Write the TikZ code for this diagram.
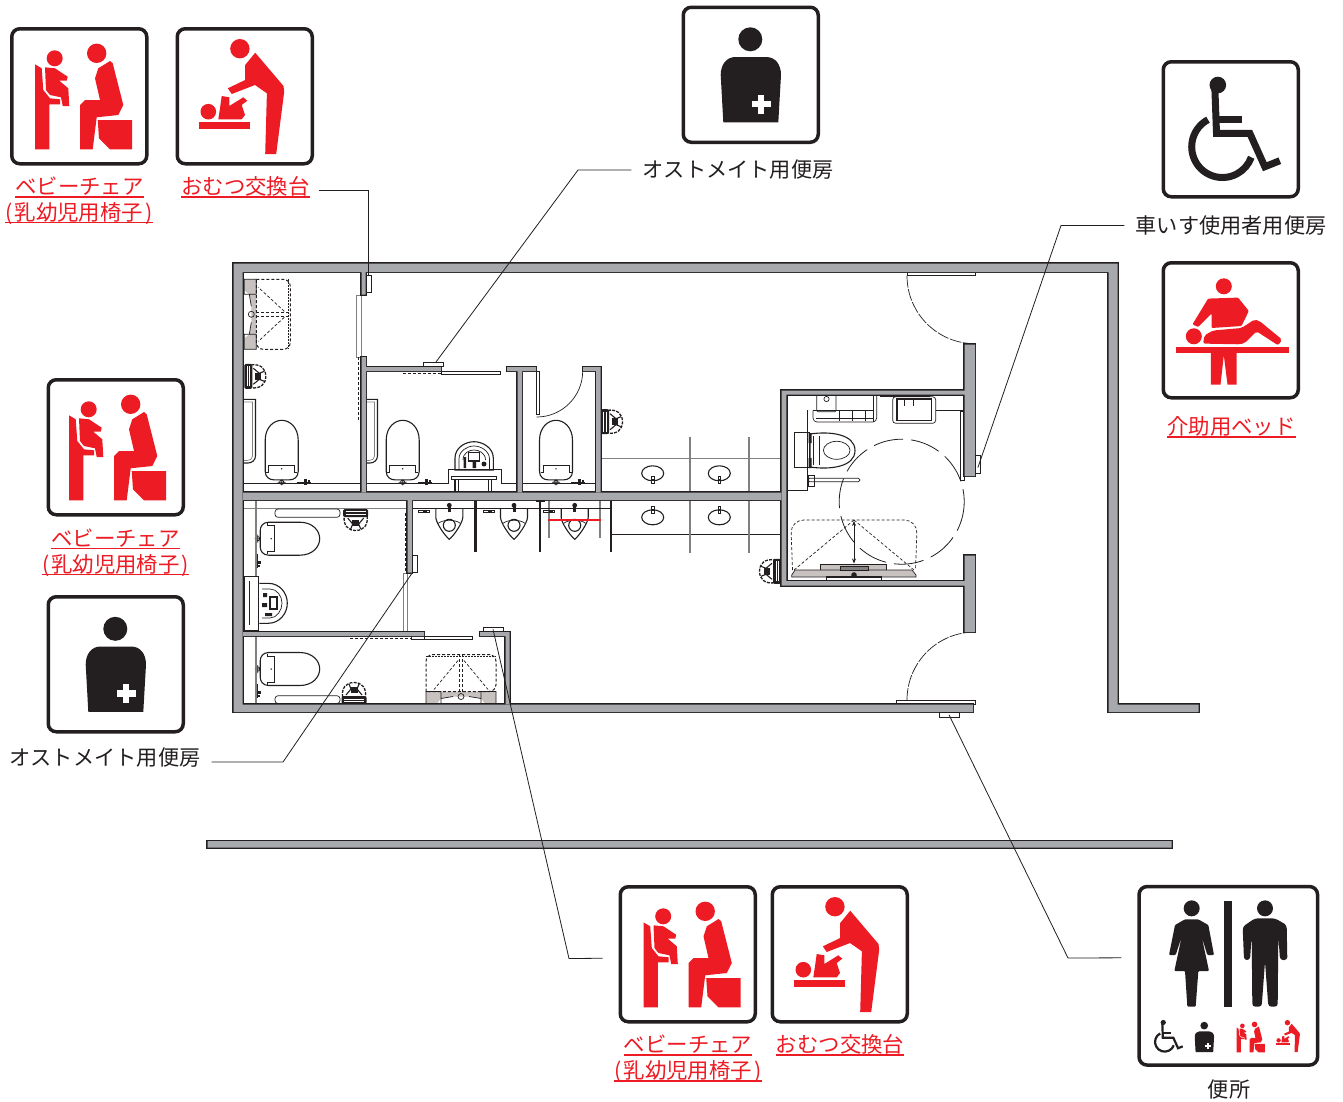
\documentclass[tikz,border=0pt]{standalone}
\usepackage{fontspec}
\newfontfamily\jp{Noto Sans CJK JP}
\usetikzlibrary{calc,arrows.meta}
\definecolor{ink}{HTML}{231F20}
\definecolor{sred}{HTML}{ED1C24}
\definecolor{wallg}{HTML}{A7A9AC}
\definecolor{tileg}{HTML}{C7C2C0}
\tikzset{
  iconframe/.style={draw=ink,line width=3.5pt,rounded corners=8pt,minimum size=135pt,inner sep=0pt,fill=white},
  redlabel/.style={font=\jp\fontsize{21.4pt}{24pt}\selectfont,text=sred,anchor=south,inner sep=0pt,text height=17pt,text depth=2pt},
  blacklabel/.style={font=\jp\fontsize{21.2pt}{24pt}\selectfont,text=ink,inner sep=0pt},
  redrule/.style={draw=sred,line width=1.8pt},
  leader/.style={draw=ink,line width=0.8pt},
  thinl/.style={draw=ink,line width=0.7pt},
  med/.style={draw=ink,line width=1.1pt},
  grayl/.style={draw=gray,line width=1.1pt},
  indicator/.style={draw=ink,line width=0.7pt,fill=white,inner sep=0pt},
  dashl/.style={draw=ink,line width=0.7pt,dash pattern=on 3pt off 2pt},
  doorarc/.style={draw=ink,line width=0.7pt,dash pattern=on 12pt off 1.5pt},
  turn/.style={draw=ink,line width=0.8pt,dash pattern=on 30pt off 8pt},
}
% --- pictograms, drawn in a 138.5 box ---
\newcommand\FrameAt[3]{\node[iconframe] (#1) at (#2+69.25,#3+69.25) {};}
\newcommand\BabyChair{%
  \fill[sred] (25,37.3) -- (31.7,41.3) -- (33.3,63) -- (40,71.3) -- (50,72.3) -- (50,77.3) -- (39.3,77.3) -- (39.3,122.3) -- (25,122.3) -- cycle;
  \fill[sred] (44.7,31.3) circle[radius=8];
  \fill[sred] (35,40.3) -- (45,41.3) -- (57.7,49.7) -- (56.7,53.7) -- (49.3,53.7) -- (58.3,61.3) -- (59.3,79) -- (52.7,79) -- (51,70.3) -- (40,68) -- (36,63) -- cycle;
  \fill[sred] (86.7,26.3) circle[radius=9.7];
  \fill[sred] (100,34) -- (102.7,36.3) -- (113.3,78) -- (108.3,88) -- (86.7,90.3) -- (82.7,122.3) -- (70,122.3) -- (70,78) -- (75,73) -- (90,73) -- (85,51.3) -- (88.3,41.3) -- cycle;
  \fill[sred] (87.7,93) -- (122,93) -- (122,122.3) -- (100,122.3) -- (89,111.3) -- cycle;
}
\newcommand\Diaper{%
  \fill[sred] (64.4,21.7) circle[radius=9.7];
  \fill[sred] (79.7,25.7) -- (108,59) -- (108.7,64.7) -- (100.7,127) -- (89.7,127) -- (91.4,66.3) -- (79.5,58) -- (56.2,67) -- (52.3,61.3) -- (69.7,53) -- (69.7,38) -- cycle;
  \fill[sred] (32.8,84.7) circle[radius=7.8];
  \fill[sred] (46.2,69) -- (53.8,70.3) -- (53.8,79) -- (67.8,70.3) -- (71.8,73.7) -- (66.2,78) -- (69.5,88) -- (66.2,92.3) -- (42.8,92.3) -- (44.5,81.3) -- cycle;
  \fill[sred] (23.7,95) rectangle (74.7,101.7);
}
\newcommand\Ostomate{%
  \fill[ink] (68.8,33.8) circle[radius=12];
  \fill[ink] (41.8,116.8) -- (39.2,69.5) .. controls (39.2,59) and (45,51.5) .. (54,51.5) -- (84.5,51.5) .. controls (94,51.5) and (99.5,59) .. (99.5,69.5) -- (96.8,116.8) -- cycle;
  \fill[white] (70,95.2) rectangle (89,101.8);
  \fill[white] (76.2,89) rectangle (82.8,108);
}
\newcommand\WheelChair[1]{%
  \fill[ink] (56.3,25) circle[radius=8.3];
  \draw[ink,line width=#1*7pt,miter limit=4] (53.3,26.7) -- (55,73.3) -- (88.3,73.3) -- (103.3,106.7) -- (118.3,100.7);
  \draw[ink,line width=#1*7pt] (56.7,59.3) -- (80.7,59.3);
  \draw[ink,line width=#1*7pt] (46.5,59.7) arc[start angle=242,end angle=20,radius=30.7];
}
\newcommand\CareBed{%
  \fill[sred] (62.3,25.3) circle[radius=8];
  \fill[sred,rounded corners=1pt] (46.6,37.6) -- (76.6,36.6) -- (87.3,50) -- (80,65) -- (50,67) -- (50,52.6) -- (36.6,66) -- (31,63.3) -- cycle;
  \fill[sred] (32.3,75.3) circle[radius=8];
  \fill[sred,rounded corners=2pt] (41.6,82.6) -- (43,74.3) -- (51.6,69.5) -- (80,67) -- (93,58.5) -- (98,60) -- (120.6,78.6) -- (116.6,84.3) -- (95,70.3) -- (83.3,82) -- (78,83.3) -- cycle;
  \fill[sred] (14,85.6) rectangle (127.3,92);
  \fill[sred] (49.3,92) -- (75,92) -- (75,123.6) -- (66,123.6) -- (62.3,94.3) -- (59,123.6) -- (49.3,123.6) -- cycle;
}
% --- plan furniture ---
\newcommand\ToiletSeat[3]{%
  \begin{scope}[shift={(#1,#2)},rotate=#3]
  \draw[med] (-16.5,-12) -- (-16.5,-43) .. controls (-16.5,-56) and (-8,-63) .. (0,-63) .. controls (8,-63) and (16.5,-56) .. (16.5,-43) -- (16.5,-12) .. controls (16.5,-6) and (12,-3.5) .. (8,-3.5) -- (-8,-3.5) .. controls (-12,-3.5) and (-16.5,-6) .. (-16.5,-12) -- cycle;
  \draw[thinl] (-15.5,-11) -- (-13,-11) -- (-13,-18) -- (13,-18) -- (13,-11) -- (15.5,-11);
  \fill[ink] (0,-14.5) circle[radius=0.8];
  \draw[thinl] (0,-1) circle[radius=2.2] (-4,-1) -- (4,-1) (0,-4) -- (0,2);
  \draw[med] (15,-1) -- (29,-1);
  \fill[ink] (22,-4) rectangle (25,2);
  \fill[ink] (26,-3) rectangle (28,1);
  \end{scope}}
\newcommand\ChairSeat[3]{%
  \begin{scope}[shift={(#1,#2)},rotate=#3]
  \fill[ink,rounded corners=1.5pt] (0,-12.5) rectangle (8,12.5);
  \draw[white,line width=0.4pt] (2.6,-10) -- (2.6,10) (5.3,-10) -- (5.3,10);
  \draw[draw=ink,line width=1.3pt,dash pattern=on 3pt off 1.2pt] (7,-11.5) .. controls (16,-12.5) and (21.5,-8) .. (21.5,0) .. controls (21.5,8) and (16,12.5) .. (7,11.5);
  \draw[draw=ink,line width=1.1pt] (9,-8) -- (15,-3) (9,8) -- (15,3) (15,-3) -- (20,-5) (15,3) -- (20,5);
  \fill[ink] (11,-3.5) rectangle (17,3.5);
  \end{scope}}
\newcommand\FoldSheet[4]{%
  \begin{scope}[shift={(#1,#2)},rotate=#3]
  \fill[tileg] (0,-35) -- (12,-35) -- (12,35) -- (0,35) -- (0,24) -- (5,20) -- (7,8) -- (7,-8) -- (5,-20) -- (0,-24) -- cycle;
  \draw[thinl] (0,-35) rectangle (12,-20) (0,20) rectangle (12,35) (5,-20) -- (7,-8) (5,20) -- (7,8);
  \draw[thinl] (7,0) circle[radius=3];
  \draw[draw=ink,line width=1pt,dash pattern=on 3pt off 2pt,rounded corners=7pt] (12,-35) -- (#4,-35) -- (#4,35) -- (12,35) -- (12,-35);
  \draw[draw=ink,line width=1pt,dash pattern=on 2pt off 1pt] (#4-2,-35) -- (#4-2,35);
  \draw[dashl,line width=1pt] (12,-1.8) -- (#4,-1.8) (12,1.8) -- (#4,1.8);
  \draw[dashl] (#4-6,-3) -- (14,-27) (#4-6,3) -- (14,27);
  \end{scope}}
\newcommand\Urinal[2]{%
  \begin{scope}[shift={(#1,#2)}]
  \draw[med] (-13.5,0) -- (-13.5,9) .. controls (-13.5,14) and (-5,27) .. (0,31) .. controls (5,27) and (13.5,14) .. (13.5,9) -- (13.5,0);
  \draw[thinl] (-11,15) .. controls (-6,11) and (6,11) .. (11,15);
  \draw[med] (0,17) circle[radius=6];
  \fill[ink] (-1.5,-3.5) rectangle (1.5,4);
  \fill[ink] (0,-3) circle[radius=2.4];
  \draw[thinl] (-31,2) rectangle (-20,4.5);
  \draw[thinl] (-26,3) -- (-22,3);
  \end{scope}}
\newcommand\Basin[3]{%
  \draw[med] (#1,#2) ellipse[x radius=11,y radius=7.5];
  \fill[white] (#1-1.2,#2+#3*3.5) rectangle (#1+1.2,#2+#3*10.5);
  \draw[thinl] (#1-1.2,#2+#3*3.5) rectangle (#1+1.2,#2+#3*10.5);
  \fill[ink] (#1-1.2,#2+#3*6) rectangle (#1+1.2,#2+#3*8);
}
\newcommand\WallPaths{
  (233.6,263.5) -- (1117.5,263.5) -- (1117.5,704.5) -- (1198.5,704.5) -- (1198.5,712) -- (1108.5,712) -- (1108.5,272) -- (242.6,272) -- (242.6,704.5) -- (973,704.5) -- (973,712) -- (233.6,712) -- cycle
  (975,344.5) -- (975,476) -- (964.5,476) -- (964.5,394.5) -- (786.3,394.5) -- (786.3,581) -- (964.5,581) -- (964.5,555.5) -- (975,555.5) -- (975,632) -- (964.5,632) -- (964.5,585.5) -- (781.5,585.5) -- (781.5,390.5) -- (964.5,390.5) -- (964.5,344.5) -- cycle
  (243,492.5) rectangle (781,500)
  (361.5,272) rectangle (365.5,294.5)
  (361.5,357) rectangle (366,492)
  (366,367.2) rectangle (441,371.2)
  (507,367) rectangle (536,371)
  (517.5,371) rectangle (522,492)
  (583.2,367) rectangle (600.5,371)
  (596.2,371) rectangle (600.5,492)
  (407.5,500) rectangle (412,572.5)
  (243,632.2) rectangle (424,636.2)
  (480,632.2) rectangle (509.5,636.2)
  (505.5,636) rectangle (509.5,704)
  (207.5,841) rectangle (1171.5,847.5)
}
\begin{document}
\begin{tikzpicture}[x=1pt,y=1pt,yscale=-1]
\useasboundingbox (0,0) rectangle (1343,1101);
\fill[white] (0,0) rectangle (1343,1101);

% ===== plan: furniture first =====
\FoldSheet{244.3}{314.3}{0}{46}
\FoldSheet{461}{703.5}{-90}{49}
\ChairSeat{244.3}{376.3}{0}
\ChairSeat{601}{421.7}{0}
\ChairSeat{781}{571.3}{180}
\ChairSeat{355.7}{509}{90}
\ChairSeat{354}{704}{-90}
\draw[thinl] (243,483.3) -- (361,483.3) (366.5,483.3) -- (448.3,483.3) -- (448.3,469.3) -- (501.7,469.3) -- (501.7,483.3) -- (517,483.3) (522.5,483.3) -- (595.7,483.3);
\draw[med] (243,399.3) -- (255.5,399.3) -- (255.5,456) .. controls (255.5,460) and (252,463) .. (248,463) -- (243,463);
\draw[thinl,draw=gray] (243,402) -- (252.5,402) -- (252.5,456) .. controls (252.5,459) and (250,460.5) .. (247,460.5) -- (243,460.5);
\draw[med] (366.5,399.3) -- (377.5,399.3) -- (377.5,456) .. controls (377.5,460) and (374,463) .. (370,463) -- (366.5,463);
\draw[thinl,draw=gray] (366.5,402) -- (374.5,402) -- (374.5,456) .. controls (374.5,459) and (372,460.5) .. (369,460.5) -- (366.5,460.5);
\ToiletSeat{281.7}{483.3}{0}
\ToiletSeat{402.7}{483.3}{0}
\ToiletSeat{556}{483.3}{0}
\ToiletSeat{256.7}{538.7}{90}
\ToiletSeat{256.7}{669}{90}
\draw[med] (455,470) -- (455,458) .. controls (455,448) and (465,441.7) .. (474,441.7) .. controls (483,441.7) and (493.3,448) .. (493.3,458) -- (493.3,470) -- cycle;
\draw[thinl] (459,470) -- (459,459) .. controls (459,451) and (467,446) .. (474,446) .. controls (481,446) and (489.5,451) .. (489.5,459) -- (489.5,470);
\draw[thinl] (463,460) .. controls (463,453) and (469,450) .. (474,450) .. controls (479,450) and (485.5,453) .. (485.5,460);
\draw[med] (468.5,452.5) rectangle (479.5,461);
\fill[ink] (463.5,457) rectangle (466,468) (472.5,462) rectangle (476,468);
\fill[ink] (484,464) circle[radius=2.5];
\draw[med] (451.7,476.7) rectangle (496.7,479.3) (455,479.3) -- (455,491) (491.7,479.3) -- (491.7,491);
\draw[thinl] (458,479.3) -- (458,491) (488.7,479.3) -- (488.7,491);
\draw[grayl] (601,458.3) -- (781,458.3);
\draw[med] (611.5,534.3) -- (781,534.3);
\Basin{652.7}{473.3}{1}
\Basin{719.3}{473.3}{1}
\Basin{652.7}{517.3}{-1}
\Basin{719.3}{517.3}{-1}
\draw[draw=ink,line width=2.4pt] (475.3,500) -- (475.3,551.7) (539.7,500) -- (539.7,551.7) (611,500) -- (611,551.7);
\draw[draw=gray,line width=2.2pt] (689.7,436.7) -- (689.7,492) (749.3,436.7) -- (749.3,492) (689.7,500) -- (689.7,553.3) (749.3,500) -- (749.3,553.3);
\draw[draw=gray,line width=1.8pt] (549,500) -- (549,538) (600,500) -- (600,538);
\draw[thinl] (412.5,508.3) -- (611,508.3);
\Urinal{449.3}{508.3}
\Urinal{514}{508.3}
\Urinal{574.7}{508.3}
\draw[draw=sred,line width=1.4pt] (548.3,520) -- (601,520);
\draw[grayl] (243,508.3) -- (407,508.3);
\draw[grayl] (256,500) -- (256,576) (256,636.7) -- (256,704);
\draw[thinl,rounded corners=3pt] (340,509) -- (275,509) -- (275,517.3) -- (340,517.3) -- cycle;
\draw[thinl,rounded corners=3pt] (340,703.5) -- (275,703.5) -- (275,695.7) -- (340,695.7) -- cycle;
\draw[thinl] (244,576) rectangle (258.3,630);
\draw[draw=ink,line width=1.3pt] (249.5,581) -- (249.5,625);
\draw[med] (259.3,583.3) -- (268,583.3) .. controls (280,583.3) and (287.3,593) .. (287.3,603.3) .. controls (287.3,613) and (280,623.3) .. (268,623.3) -- (259.3,623.3);
\draw[thinl] (262,589) -- (270,589) .. controls (277,589) and (282,596) .. (282,603.3) .. controls (282,610) and (277,618) .. (270,618) -- (262,618);
\draw[med] (270,597) rectangle (277,609);
\fill[ink] (263,593) rectangle (267,597) (262,603) rectangle (267,607) (265,613) rectangle (272,616);
\draw[thinl] (536.7,371) rectangle (539.3,414.5);
\draw[thinl] (536.7,417) arc[start angle=90,end angle=0,radius=46];
\draw[thinl,draw=gray] (356.7,295) rectangle (361,357);
\draw[dashl] (358.3,357) -- (358.3,420);
\draw[dashl] (405,513) -- (405,573);
\draw[thinl,draw=gray] (403,573) rectangle (407,631.5);
\draw[thinl] (424,636.7) -- (424,640) (411.7,636.8) rectangle (472.7,639.8);
\draw[dashl] (350,638) -- (411.7,638);
\draw[thinl] (441,371.7) rectangle (500.7,374.3);
\draw[dashl] (403,373) -- (441,373);
\draw[thinl] (907.7,272.5) rectangle (975.7,275.7);
\draw[doorarc] (907,275.7) arc[start angle=180,end angle=90,radius=68];
\draw[thinl] (896,700) rectangle (975,704);
\draw[doorarc] (907,700) arc[start angle=180,end angle=270,radius=68];
\draw[thinl] (807.7,410) -- (807.7,490) -- (786.7,490);
\draw[thinl] (794.3,432.7) rectangle (809.3,467.3);
\draw[med] (810,434) .. controls (830,431) and (855,434) .. (855,450.5) .. controls (855,467) and (830,470) .. (810,467) -- cycle;
\draw[thinl] (836.7,450.3) ellipse[x radius=13.3,y radius=9];
\draw[thinl] (813,436) -- (813,465) (819,436) -- (819,465);
\fill[ink] (808.5,433) rectangle (811.5,443) (808.5,458) rectangle (811.5,468);
\draw[thinl,rounded corners=1.5pt] (808,478.3) rectangle (860,481.7);
\draw[thinl] (808,475) rectangle (814,486);
\draw[thinl,rounded corners=4pt] (813,410.5) -- (813,422) -- (876.7,422) -- (876.7,395);
\draw[thinl] (816,418.5) -- (873,418.5) (839,410) -- (839,421) (852,410) -- (852,421) (865,410) -- (865,421) (873.3,395) -- (873.3,422) (813,410.5) -- (873,410.5);
\draw[thinl,rounded corners=1pt] (816.7,395) -- (816.7,411.7) -- (836,411.7) -- (836,395);
\draw[thinl] (826.5,399) circle[radius=2.6];
\draw[thinl,rounded corners=3pt] (892.7,396.7) rectangle (935.7,423.3);
\draw[draw=ink,line width=1.3pt] (897,399) rectangle (931.7,420.5);
\draw[draw=ink,line width=1.4pt] (880,396.5) -- (930,396.5);
\draw[thinl] (904,398) -- (904,406) (913.5,398) -- (913.5,406);
\draw[thinl] (935.7,410) -- (964,410);
\draw[thinl] (960,411.7) rectangle (964,480);
\draw[turn] (901.7,501.7) circle[radius=62.5];
\draw[dashl,rounded corners=13pt] (792.5,570) -- (790.7,520) -- (917.3,520) -- (915.5,570);
\draw[dashl] (854,520) -- (794,570) (854,520) -- (914,570);
\draw[thinl,{Stealth[length=5pt,width=4pt]}-{Stealth[length=5pt,width=4pt]}] (854,521) -- (854,563.5);
\draw[thinl,fill=tileg] (820.7,564) rectangle (886.7,570.7);
\draw[thinl,fill=tileg] (795,570) -- (912,570) -- (916,575) -- (916,577) -- (791.7,577) -- (791.7,575) -- cycle;
\draw[med] (826.7,577) rectangle (881.7,580.7);
\draw[thinl,fill=gray] (840,566) rectangle (868,570);
\fill[ink] (854,575) circle[radius=2.8];

% ===== walls =====
\draw[draw=ink,line width=2.4pt,line join=miter] \WallPaths;
\fill[wallg] \WallPaths;
\fill[ink] (536,500) rectangle (545,502);

% ===== indicator panels =====
\node[indicator,minimum width=4.3pt,minimum height=17.5pt] (panelTop) at (368.9,283.7) {};
\node[indicator,minimum width=20pt,minimum height=4.4pt] (panelRoomB) at (433,364.5) {};
\node[indicator,minimum width=5pt,minimum height=17.3pt] (panelLeft) at (415.2,563.7) {};
\node[indicator,minimum width=20pt,minimum height=4pt] (panelLow) at (493,629.3) {};
\node[indicator,minimum width=4.3pt,minimum height=17.6pt] (panelAcc) at (977.9,464.5) {};
\node[indicator,minimum width=20pt,minimum height=4.4pt] (panelEnt) at (949,714.8) {};

% ===== pictograms =====
\FrameAt{iconBabyA}{10}{27}
\begin{scope}[shift={(10,27)}]\BabyChair\end{scope}
\FrameAt{iconDiaperA}{175.5}{27}
\begin{scope}[shift={(175.5,27)}]\Diaper\end{scope}
\FrameAt{iconOstoA}{681.5}{5.5}
\begin{scope}[shift={(681.5,5.5)}]\Ostomate\end{scope}
\FrameAt{iconWheel}{1161.5}{60}
\begin{scope}[shift={(1161.5,60)}]\WheelChair{1}\end{scope}
\FrameAt{iconBed}{1161.5}{261}
\begin{scope}[shift={(1161.5,261)}]\CareBed\end{scope}
\FrameAt{iconBabyB}{46.5}{378}
\begin{scope}[shift={(44,378)}]\BabyChair\end{scope}
\FrameAt{iconOstoB}{46.5}{595}
\begin{scope}[shift={(46.5,595)}]\Ostomate\end{scope}
\FrameAt{iconBabyC}{618.5}{885}
\begin{scope}[shift={(618.5,885)}]\BabyChair\end{scope}
\FrameAt{iconDiaperC}{770.5}{885}
\begin{scope}[shift={(770.5,885)}]\Diaper\end{scope}

\node[iconframe,minimum size=178.5pt] (iconToilet) at (1228.3,975.8) {};
\begin{scope}[shift={(1130,880)},scale=1/3]
  \fill[ink] (185,85) circle[radius=24];
  \fill[ink,rounded corners=1pt] (165,118) -- (205,118) -- (235,135) -- (252,225) -- (232,225) -- (215,170) -- (237,273) -- (205,273) -- (197,380) -- (172,380) -- (165,273) -- (133,273) -- (155,170) -- (137,225) -- (117,225) -- (135,135) -- cycle;
  \fill[ink] (282,63) rectangle (306,380);
  \fill[ink] (405,85) circle[radius=24];
  \fill[ink,rounded corners=3pt] (375,115) -- (435,115) -- (470,135) -- (472,240) -- (450,240) -- (445,165) -- (443,380) -- (415,380) -- (405,245) -- (395,380) -- (367,380) -- (365,165) -- (360,240) -- (342,240) -- (338,140) -- cycle;
\end{scope}
\begin{scope}[shift={(1145.5,1014.6)},scale=0.315]\WheelChair{0.315}\end{scope}
\begin{scope}[shift={(1182.2,1014.8)},scale=0.32]\Ostomate\end{scope}
\begin{scope}[shift={(1229.4,1016.8)},scale=0.29]\BabyChair\end{scope}
\begin{scope}[shift={(1269.4,1016.6)},scale=0.28]\Diaper\end{scope}

% ===== labels =====
\newcommand\RedLabel[4]{\node[redlabel] (#1) at (#2,#3) {#4}; \draw[redrule] (#1.south west) -- (#1.south east);}
\RedLabel{lblBabyA}{79.5}{197}{ベビーチェア}
\RedLabel{lblBabyAb}{79}{222.5}{(\kern2pt 乳幼児用椅子\kern2pt)}
\RedLabel{lblDiaperA}{245.5}{197}{おむつ交換台}
\RedLabel{lblBabyB}{115.5}{548.5}{ベビーチェア}
\RedLabel{lblBabyBb}{115.5}{574.5}{(\kern2pt 乳幼児用椅子\kern2pt)}
\RedLabel{lblBabyC}{688}{1055}{ベビーチェア}
\RedLabel{lblBabyCb}{688}{1081}{(\kern2pt 乳幼児用椅子\kern2pt)}
\RedLabel{lblDiaperC}{840}{1055}{おむつ交換台}
\RedLabel{lblBed}{1231.5}{437}{介助用ベッド}
\node[blacklabel] (lblOstoA) at (738,170) {オストメイト用便房};
\node[blacklabel] (lblWheel) at (1231,225.5) {車いす使用者用便房};
\node[blacklabel] (lblOstoB) at (105,758) {オストメイト用便房};
\node[blacklabel] (lblToilet) at (1229,1089.5) {便所};

% ===== leaders =====
\draw[leader] ($(lblDiaperA.east)+(9,3.5)$) -| ($(panelTop.north)+(-1,0)$);
\draw[leader] ($(lblOstoA.west)+(-11,0)$) -- (578,170) -- ($(panelRoomB.north)+(3,0)$);
\draw[leader] ($(lblWheel.west)+(-11,0)$) -- (1061,225.5) -- ($(panelAcc.center)+(0,3)$);
\draw[leader] ($(lblOstoB.east)+(11,4)$) -- (283,762) -- (panelLeft.south west);
\draw[leader] ($(iconBabyC.west)+(-16,4)$) -- (569,958.5) -- (panelLow.center);
\draw[leader] ($(iconToilet.west)+(-16,-18)$) -- (1068,958) -- (panelEnt.center);
\end{tikzpicture}
\end{document}
